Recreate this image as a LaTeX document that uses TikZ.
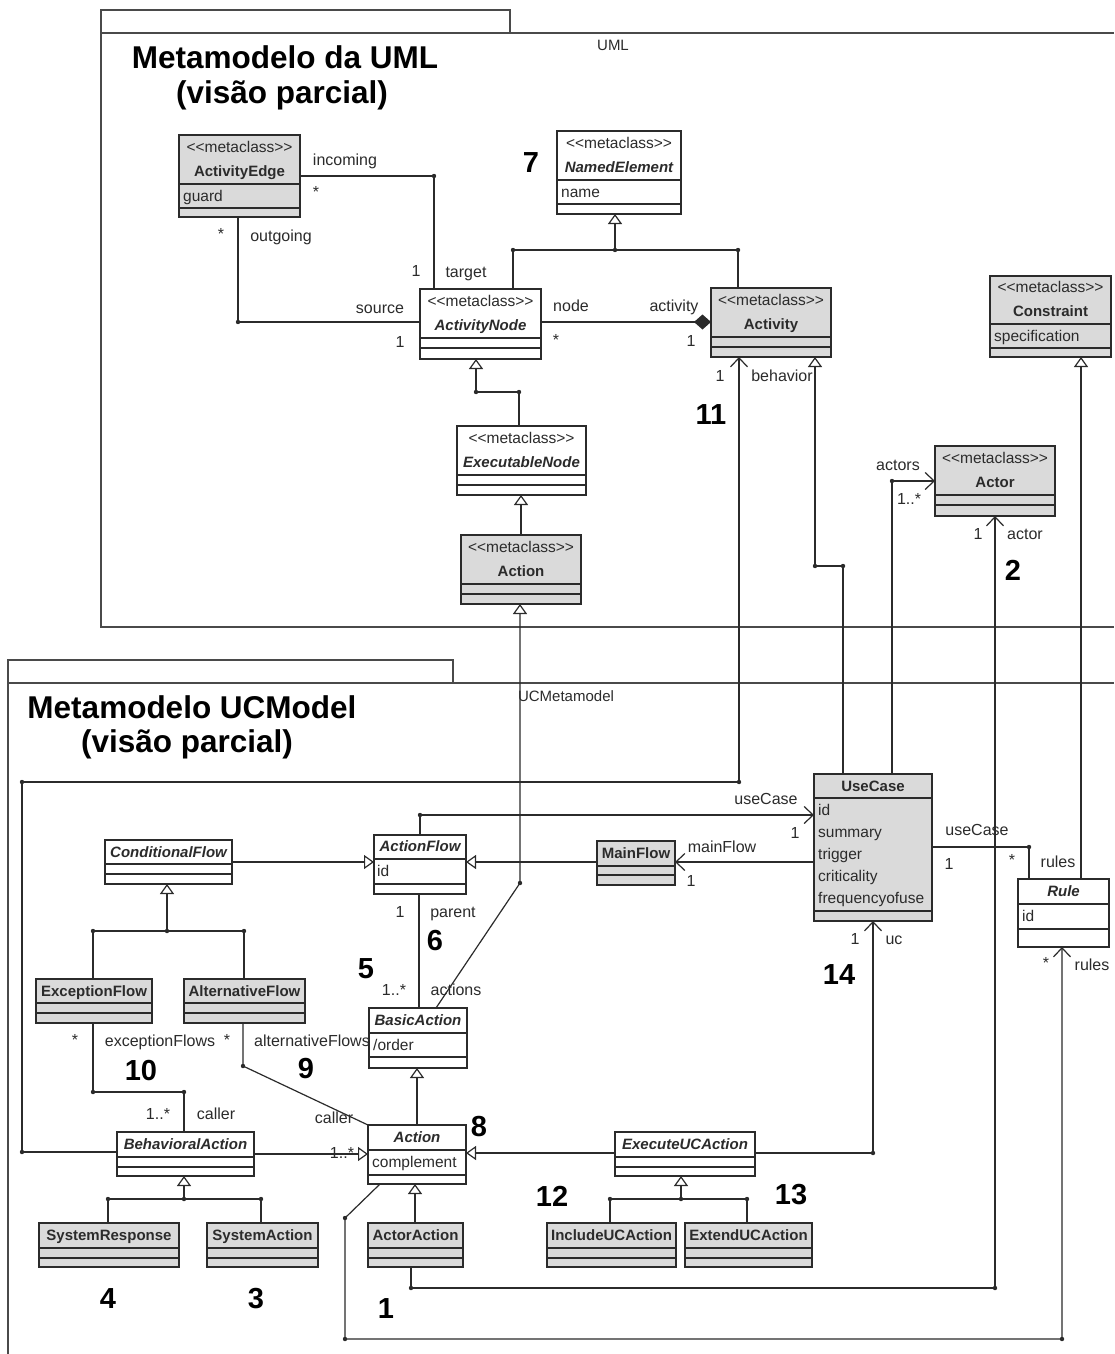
\documentclass[tikz,border=0pt]{standalone}
\usepackage{fontspec}
\setmainfont{Liberation Sans}
\usetikzlibrary{arrows.meta,fit,calc}

\definecolor{ink}{HTML}{2B2B2B}
\definecolor{clsgray}{HTML}{DADADA}
\definecolor{framec}{HTML}{4A4A4A}

\tikzset{
  box/.style={draw=ink, line width=1.3pt, inner sep=0pt, outer sep=0pt},
  conn/.style={draw=ink, line width=1.2pt},
  gen/.style={conn, -{Triangle[length=10pt,width=14pt,fill=white]}},
  nav/.style={conn, -{Straight Barb[length=9pt,width=17pt]}},
  comp/.style={conn, -{Diamond[length=17pt,width=15pt]}},
  txt/.style={inner sep=0pt, text=ink, text height=11pt, text depth=0pt},
  lbl/.style={txt, font=\fontsize{16}{18}\selectfont},
  st/.style={txt, font=\fontsize{15.5}{17}\selectfont},
  cn/.style={txt, font=\bfseries\fontsize{15}{17}\selectfont},
  ca/.style={txt, font=\bfseries\itshape\fontsize{15}{17}\selectfont},
  attr/.style={txt, font=\fontsize{15.5}{17}\selectfont, anchor=west},
  num/.style={inner sep=0pt, text height=21pt, text depth=0pt, font=\bfseries\fontsize{29}{33}\selectfont},
  ttl/.style={inner sep=0pt, font=\bfseries\fontsize{31.5}{35}\selectfont},
  pkg/.style={txt, text height=10pt, font=\fontsize{15}{17}\selectfont},
  frame/.style={draw=framec, line width=1.2pt},
}

% class box: name, x1, y1, x2, y2, fill, first divider, second divider
\newcommand\umlclass[8]{%
  \node[box, fill=#6, fit={(#2,#3) (#4,#5)}] (#1) {};
  \draw[draw=ink, line width=1.3pt] (#2,#7) -- (#4,#7) (#2,#8) -- (#4,#8);
}
\newcommand\jdot[1]{\fill[ink] (#1) circle[radius=2.2pt];}
\newcommand\metacl{<\kern0pt<metaclass>\kern0pt>}

\begin{document}
\begin{tikzpicture}[x=1pt,y=-1pt]
\useasboundingbox (0,0) rectangle (1114,1354);
\fill[white] (0,0) rectangle (1114,1354);

% ---------------- package UML ----------------
\draw[frame] (101,33) rectangle (510,10);
\draw[frame] (1114,33) -- (101,33) -- (101,627) -- (1114,627);
\node[pkg] at (613,46) {UML};
\node[ttl] at (285,57) {Metamodelo da UML};
\node[ttl] at (282,95) {(visão parcial)};

% ---------------- package UCMetamodel ----------------
\draw[frame] (8,683) rectangle (453,660);
\draw[frame] (1114,683) -- (8,683) -- (8,1354);
\node[pkg] at (566,696) {UCMetamodel};
\node[ttl] at (192,707) {Metamodelo UCModel};
\node[ttl] at (187,744) {(visão parcial)};

% ---------------- UML classes ----------------
\umlclass{AE}{179}{135}{300}{217}{clsgray}{184}{208}
\node[st] at (239.5,147) {\metacl};
\node[cn] at (239.5,171) {ActivityEdge};
\node[attr] at (183,196) {guard};

\umlclass{NE}{557}{131}{681}{214}{white}{180}{204}
\node[st] at (619,143) {\metacl};
\node[ca] at (619,167) {NamedElement};
\node[attr] at (561,192) {name};

\umlclass{AN}{420}{289}{541}{359}{white}{338}{348}
\node[st] at (480.5,301) {\metacl};
\node[ca] at (480.5,325) {ActivityNode};

\umlclass{AC}{711}{288}{831}{357}{clsgray}{337}{347}
\node[st] at (771,300) {\metacl};
\node[cn] at (771,324) {Activity};

\umlclass{CO}{990}{276}{1111}{357}{clsgray}{324}{348}
\node[st] at (1050.5,287) {\metacl};
\node[cn] at (1050.5,311) {Constraint};
\node[attr] at (994,336) {specification};

\umlclass{EN}{457}{426}{586}{495}{white}{475}{485}
\node[st] at (521.5,438) {\metacl};
\node[ca] at (521.5,462) {ExecutableNode};

\umlclass{MA}{461}{535}{581}{604}{clsgray}{584}{594}
\node[st] at (521,547) {\metacl};
\node[cn] at (521,571) {Action};

\umlclass{ACT}{935}{446}{1055}{516}{clsgray}{495}{505}
\node[st] at (995,458) {\metacl};
\node[cn] at (995,482) {Actor};

% ---------------- UCMetamodel classes ----------------
\umlclass{UC}{814}{774}{932}{921}{clsgray}{798}{911}
\node[cn] at (873,786) {UseCase};
\node[attr] at (818,810) {id};
\node[attr] at (818,832) {summary};
\node[attr] at (818,854) {trigger};
\node[attr] at (818,876) {criticality};
\node[attr] at (818,898) {frequencyofuse};

\umlclass{RU}{1018}{879}{1109}{947}{white}{904}{929}
\node[ca] at (1063.5,891) {Rule};
\node[attr] at (1022,916) {id};

\umlclass{CF}{105}{840}{232}{884}{white}{864}{874}
\node[ca] at (168.5,852) {ConditionalFlow};

\umlclass{AF}{374}{835}{466}{894}{white}{859}{884}
\node[ca] at (420,846) {ActionFlow};
\node[attr] at (377,871) {id};

\umlclass{MF}{597}{841}{675}{885}{clsgray}{866}{875}
\node[cn] at (636,853) {MainFlow};

\umlclass{EF}{36}{979}{152}{1023}{clsgray}{1003}{1013}
\node[cn] at (94,991) {ExceptionFlow};

\umlclass{ALF}{184}{979}{305}{1023}{clsgray}{1003}{1013}
\node[cn] at (244.5,991) {AlternativeFlow};

\umlclass{BA}{369}{1008}{467}{1068}{white}{1033}{1057}
\node[ca] at (418,1020) {BasicAction};
\node[attr] at (373,1045) {/order};

\umlclass{BeA}{117}{1132}{254}{1176}{white}{1157}{1167}
\node[ca] at (185.5,1144) {BehavioralAction};

\umlclass{ACU}{368}{1125}{466}{1184}{white}{1150}{1175}
\node[ca] at (417,1137) {Action};
\node[attr] at (372,1162) {complement};

\umlclass{EX}{615}{1132}{755}{1176}{white}{1157}{1167}
\node[ca] at (685,1144) {ExecuteUCAction};

\umlclass{SR}{39}{1223}{179}{1267}{clsgray}{1248}{1258}
\node[cn] at (109,1235) {SystemResponse};
\umlclass{SA}{207}{1223}{318}{1267}{clsgray}{1248}{1258}
\node[cn] at (262.5,1235) {SystemAction};
\umlclass{AA}{368}{1223}{463}{1267}{clsgray}{1248}{1258}
\node[cn] at (415.5,1235) {ActorAction};
\umlclass{IU}{547}{1223}{676}{1267}{clsgray}{1248}{1258}
\node[cn] at (611.5,1235) {IncludeUCAction};
\umlclass{XU}{685}{1223}{812}{1267}{clsgray}{1248}{1258}
\node[cn] at (748.5,1235) {ExtendUCAction};

% ---------------- bend points ----------------
\coordinate (inc) at (434,176);
\coordinate (outg) at (238,322);
\coordinate (neL) at (513,250);
\coordinate (neM) at (615,250);
\coordinate (neR) at (738,250);
\coordinate (cmp) at (620,322);
\coordinate (exA) at (476,392);
\coordinate (exB) at (519,392);
\coordinate (baT) at (520,883);
\coordinate (bhA) at (739,782);
\coordinate (bhB) at (22,782);
\coordinate (bhC) at (22,1152);
\coordinate (ucA) at (843,566);
\coordinate (ucB) at (815,566);
\coordinate (acs) at (892,481);
\coordinate (atA) at (995,1288);
\coordinate (atB) at (411,1288);
\coordinate (crl) at (1081,600);
\coordinate (ufl) at (420,815);
\coordinate (mfl) at (700,862);
\coordinate (cfl) at (300,862);
\coordinate (cgM) at (167,931);
\coordinate (cgL) at (93,931);
\coordinate (cgR) at (244,931);
\coordinate (abl) at (419,950);
\coordinate (efA) at (93,1092);
\coordinate (efB) at (184,1092);
\coordinate (alA) at (243,1066);
\coordinate (bag) at (417,1100);
\coordinate (bbl) at (300,1154);
\coordinate (ebl) at (540,1153);
\coordinate (euA) at (873,1153);
\coordinate (aag) at (415,1200);
\coordinate (rlS) at (380,1200);
\coordinate (rlA) at (345,1218);
\coordinate (rlB) at (345,1339);
\coordinate (rlC) at (1062,1339);
\coordinate (bgM) at (184,1199);
\coordinate (bgL) at (108,1199);
\coordinate (bgR) at (261,1199);
\coordinate (xgM) at (681,1199);
\coordinate (xgL) at (610,1199);
\coordinate (xgR) at (747,1199);
\coordinate (url) at (1029,847);

% ---------------- connectors (UML) ----------------
\draw[conn] (AE.east |- inc) -- (inc) -- (AN.north -| inc);
\draw[conn] (AE.south -| outg) -- (outg) -- (AN.west |- outg);
\draw[conn] (AN.north -| neL) -- (neL) -- (neR) -- (AC.north -| neR);
\draw[gen] (neM) -- (NE.south -| neM);
\draw[comp] (AN.east |- cmp) -- (AC.west |- cmp);
\draw[conn] (EN.north -| exB) -- (exB) -- (exA);
\draw[gen] (exA) -- (AN.south -| exA);
\draw[gen] (MA.north) -- (EN.south -| MA.north);
\draw[gen] (BA.north -| 436,0) -- (baT) -- (MA.south -| baT);
\draw[nav] (BeA.west |- bhC) -- (bhC) -- (bhB) -- (bhA) -- (AC.south -| bhA);
\draw[gen] (UC.north -| ucA) -- (ucA) -- (ucB) -- (AC.south -| ucB);
\draw[nav] (UC.north -| acs) -- (acs) -- (ACT.west |- acs);
\draw[nav] (AA.south -| atB) -- (atB) -- (atA) -- (ACT.south -| atA);
\draw[gen] (RU.north -| crl) -- (CO.south -| crl);

% ---------------- connectors (UCMetamodel) ----------------
\draw[nav] (AF.north -| ufl) -- (ufl) -- (UC.west |- ufl);
\draw[nav] (UC.west |- mfl) -- (MF.east |- mfl);
\draw[gen] (MF.west |- mfl) -- (AF.east |- mfl);
\draw[gen] (CF.east |- cfl) -- (AF.west |- cfl);
\draw[conn] (EF.north -| cgL) -- (cgL) -- (cgR) -- (ALF.north -| cgR);
\draw[gen] (cgM) -- (CF.south -| cgM);
\draw[conn] (AF.south -| abl) -- (BA.north -| abl);
\draw[conn] (EF.south -| efA) -- (efA) -- (efB) -- (BeA.north -| efB);
\draw[conn] (ALF.south -| alA) -- (alA) -- (ACU.north west);
\draw[gen] (ACU.north -| bag) -- (BA.south -| bag);
\draw[gen] (BeA.east |- bbl) -- (ACU.west |- bbl);
\draw[gen] (EX.west |- ebl) -- (ACU.east |- ebl);
\draw[nav] (EX.east |- euA) -- (euA) -- (UC.south -| euA);
\draw[gen] (AA.north -| aag) -- (ACU.south -| aag);
\draw[nav] (ACU.south -| rlS) -- (rlA) -- (rlB) -- (rlC) -- (RU.south -| rlC);
\draw[conn] (SR.north -| bgL) -- (bgL) -- (bgR) -- (SA.north -| bgR);
\draw[gen] (bgM) -- (BeA.south -| bgM);
\draw[conn] (IU.north -| xgL) -- (xgL) -- (xgR) -- (XU.north -| xgR);
\draw[gen] (xgM) -- (EX.south -| xgM);
\draw[conn] (UC.east |- url) -- (url) -- (RU.north -| url);

% ---------------- junction dots ----------------
\foreach \p in {inc,outg,neL,neM,neR,exA,exB,baT,bhA,bhB,bhC,ucA,ucB,acs,atA,atB,
                ufl,cgM,cgL,cgR,efA,efB,alA,euA,rlA,rlB,rlC,bgM,bgL,bgR,xgM,xgL,xgR,url}
  {\jdot{\p}}

% ---------------- role names and multiplicities ----------------
\node[lbl] at (345,160) {incoming};
\node[lbl] at (316,192) {*};
\node[lbl] at (221,234) {*};
\node[lbl] at (281,236) {outgoing};
\node[lbl] at (416,271) {1};
\node[lbl] at (466,272) {target};
\node[lbl] at (380,308) {source};
\node[lbl] at (400,342) {1};
\node[lbl] at (571,306) {node};
\node[lbl] at (556,340) {*};
\node[lbl] at (674,306) {activity};
\node[lbl] at (691,341) {1};
\node[lbl] at (720,376) {1};
\node[lbl] at (782,376) {behavior};
\node[lbl] at (898,465) {actors};
\node[lbl] at (909,499) {1..*};
\node[lbl] at (978,534) {1};
\node[lbl] at (1025,534) {actor};
\node[lbl] at (766,799) {useCase};
\node[lbl] at (795,833) {1};
\node[lbl] at (722,847) {mainFlow};
\node[lbl] at (691,881) {1};
\node[lbl] at (977,830) {useCase};
\node[lbl] at (949,864) {1};
\node[lbl] at (1012,860) {*};
\node[lbl] at (1058,862) {rules};
\node[lbl] at (1046,963) {*};
\node[lbl] at (1092,965) {rules};
\node[lbl] at (855,939) {1};
\node[lbl] at (894,939) {uc};
\node[lbl] at (400,912) {1};
\node[lbl] at (453,912) {parent};
\node[lbl] at (394,990) {1..*};
\node[lbl] at (456,990) {actions};
\node[lbl] at (75,1040) {*};
\node[lbl] at (160,1041) {exceptionFlows};
\node[lbl] at (227,1040) {*};
\node[lbl] at (312,1041) {alternativeFlows};
\node[lbl] at (158,1114) {1..*};
\node[lbl] at (216,1114) {caller};
\node[lbl] at (334,1118) {caller};
\node[lbl] at (342,1153) {1..*};

% ---------------- reference numbers ----------------
\node[num] at (531,162) {7};
\node[num] at (711,414) {11};
\node[num] at (1013,570) {2};
\node[num] at (839,974) {14};
\node[num] at (435,940) {6};
\node[num] at (366,968) {5};
\node[num] at (141,1070) {10};
\node[num] at (306,1068) {9};
\node[num] at (479,1126) {8};
\node[num] at (552,1196) {12};
\node[num] at (791,1194) {13};
\node[num] at (108,1298) {4};
\node[num] at (256,1298) {3};
\node[num] at (386,1308) {1};
\end{tikzpicture}
\end{document}
